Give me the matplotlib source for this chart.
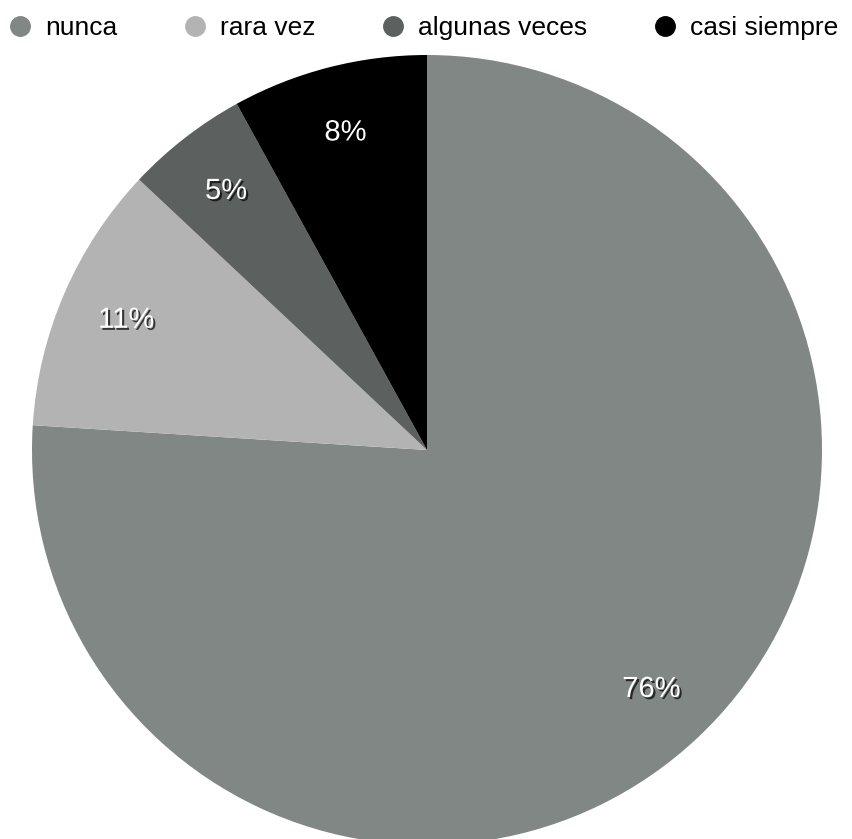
import matplotlib
matplotlib.use('Agg')
import matplotlib.pyplot as plt
import matplotlib.patheffects as pe
from matplotlib.lines import Line2D

plt.rcParams['font.family'] = ['Liberation Sans', 'DejaVu Sans']

# Survey answers and their share
categories = ['nunca', 'rara vez', 'algunas veces', 'casi siempre']
values = [76, 11, 5, 8]
colors = ['#808784', '#b3b3b3', '#5c605e', '#000000']

fig = plt.figure(figsize=(8.52, 8.39), dpi=100)
ax = fig.add_axes([32 / 852, -6 / 839, 790 / 852, 790 / 839])

wedges, texts, autotexts = ax.pie(
    values,
    colors=colors,
    startangle=90,
    counterclock=False,
    autopct='%d%%',
    pctdistance=0.83,
    wedgeprops={'linewidth': 0},
    textprops={'color': 'white', 'fontsize': 21},
)

shadow = [pe.SimplePatchShadow(offset=(1.5, -1.5), shadow_rgbFace='black', alpha=0.7),
          pe.Normal()]
for t in autotexts:
    t.set_path_effects(shadow)

ax.set_xlim(-1, 1)
ax.set_ylim(-1, 1)
ax.set_aspect('equal')
ax.axis('off')

# Legend row across the top
handles = [Line2D([], [], marker='o', linestyle='none', markersize=14,
                  markerfacecolor=c, markeredgecolor=c) for c in colors]
fig.legend(handles, categories, loc='upper left', bbox_to_anchor=(-0.011, 1.0),
           ncol=4, frameon=False, fontsize=19, handlelength=1.0,
           handletextpad=0.45, columnspacing=2.45, borderaxespad=0.3,
           borderpad=0.3)

fig.savefig('out.png', dpi=100)
